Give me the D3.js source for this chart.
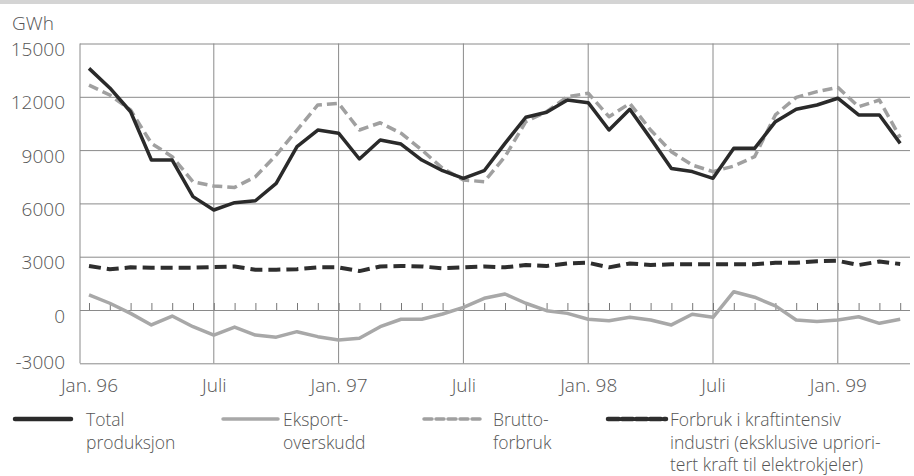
<!DOCTYPE html>
<html>
<head>
<meta charset="utf-8">
<script src="https://cdn.jsdelivr.net/npm/d3@7"></script>
<style>
  body { margin: 0; background: #fff; }
  text { font-family: "Open Sans", "Noto Sans", sans-serif; font-weight: 300; fill: #555; }
</style>
</head>
<body>
<div id="chart"></div>
<script>
// månedlige verdier, jan. 96 - apr. 99 (GWh)
var totalProduksjon = [13600,12500,11160,8440,8440,6380,5630,6040,6150,7130,
  9190,10130,9950,8500,9570,9340,8440,7840,7410,7840,
  9380,10850,11130,11820,11670,10130,11300,9660,7970,7790,
  7410,9100,9100,10600,11300,11540,11920,10980,10980,9380];
var bruttoForbruk = [12660,12100,11260,9380,8630,7220,6980,6900,7500,8720,
  10130,11540,11630,10130,10540,9950,9010,7970,7320,7220,
  8630,10600,11160,12000,12200,10880,11630,10130,8910,8160,
  7790,8100,8630,10980,11970,12290,12530,11440,11820,9700];
var forbrukKraftintensiv = [2480,2290,2400,2380,2380,2380,2420,2450,2270,2270,
  2300,2400,2400,2190,2450,2480,2450,2350,2400,2450,
  2400,2530,2480,2620,2660,2400,2620,2530,2570,2570,
  2570,2570,2570,2660,2660,2750,2770,2530,2730,2590];
var eksportOverskudd = [850,380,-190,-840,-340,-940,-1410,-960,-1410,-1530,
  -1220,-1500,-1690,-1590,-940,-520,-520,-225,150,660,
  900,380,-40,-190,-520,-600,-410,-560,-840,-240,
  -410,1030,720,230,-560,-650,-560,-380,-750,-520];

var xTickMonths = [0, 6, 12, 18, 24, 30, 36];
var xTickLabels = ["Jan. 96", "Juli", "Jan. 97", "Juli", "Jan. 98", "Juli", "Jan. 99"];
var yTicks = [-3000, 0, 3000, 6000, 9000, 12000, 15000];

var width = 914, height = 476;
var plotLeft = 80, plotRight = 910, plotTop = 43.5, plotBottom = 363.3;

var svg = d3.select("#chart").append("svg")
  .attr("width", width)
  .attr("height", height);

// grå stripe øverst (skannekant)
svg.append("rect")
  .attr("x", 0).attr("y", 0)
  .attr("width", width).attr("height", 4)
  .style("fill", "#d4d4d4");

var x = d3.scaleLinear().domain([0, 39]).range([89, 900.2]);
var y = d3.scaleLinear().domain([-3000, 15000]).range([plotBottom, plotTop]);

// horisontale gitterlinjer + y-etiketter
var yAxis = svg.append("g")
  .attr("transform", "translate(" + plotLeft + ",0)")
  .call(d3.axisLeft(y).tickValues(yTicks).tickSize(-(plotRight - plotLeft)).tickPadding(15)
    .tickFormat(function(d){ return String(d); }));
yAxis.select(".domain").remove();
yAxis.selectAll(".tick line").style("stroke", "#8a8a8a").style("stroke-width", 1);
yAxis.selectAll(".tick text")
  .attr("dy", function(d){ return d == -3000 ? "5px" : "12px"; })
  .style("font-size", "19px")
  .style("font-family", null);

// vertikale gitterlinjer
svg.append("g").selectAll("line")
  .data(xTickMonths.slice(1))
  .enter().append("line")
  .attr("x1", function(d){ return x(d); })
  .attr("x2", function(d){ return x(d); })
  .attr("y1", plotTop)
  .attr("y2", plotBottom)
  .style("stroke", "#8a8a8a")
  .style("stroke-width", 1);

// venstre akse
svg.append("line")
  .attr("x1", plotLeft).attr("x2", plotLeft)
  .attr("y1", plotTop).attr("y2", plotBottom)
  .style("stroke", "#8a8a8a")
  .style("stroke-width", 1);

// små månedsstreker på nullinjen
var mTicks = svg.append("g")
  .attr("transform", "translate(0," + y(0) + ")")
  .call(d3.axisTop(x).tickValues(d3.range(40)).tickSize(7).tickFormat(""));
mTicks.select(".domain").remove();
mTicks.selectAll(".tick line").style("stroke", "#777").style("stroke-width", 1);

// x-etiketter
var xAxis = svg.append("g")
  .attr("transform", "translate(0," + plotBottom + ")")
  .call(d3.axisBottom(x).tickValues(xTickMonths).tickSize(0).tickPadding(0)
    .tickFormat(function(d, i){ return xTickLabels[i]; }));
xAxis.select(".domain").remove();
xAxis.selectAll(".tick text")
  .attr("dy", "29px")
  .attr("y", 0)
  .style("font-size", "19px")
  .style("font-family", null);

svg.append("text")
  .attr("x", 12).attr("y", 30)
  .style("font-size", "19px")
  .text("GWh");

var line = d3.line()
  .x(function(d, i){ return x(i); })
  .y(function(d){ return y(d); });

var series = [
  {data: eksportOverskudd, color: "#a8a8a8", dash: null, w: 3.5},
  {data: bruttoForbruk, color: "#a0a0a0", dash: "10,5", w: 3.5},
  {data: forbrukKraftintensiv, color: "#2e2e2e", dash: "12,6", w: 4},
  {data: totalProduksjon, color: "#2a2a2a", dash: null, w: 3.5}
];

series.forEach(function(s){
  svg.append("path")
    .datum(s.data)
    .attr("d", line)
    .style("fill", "none")
    .style("stroke", s.color)
    .style("stroke-width", s.w)
    .style("stroke-linejoin", "round")
    .style("stroke-dasharray", s.dash);
});

// tegnforklaring
var legendItems = [
  {x1: 15, x2: 71, tx: 86, color: "#2a2a2a", dash: null, w: 4.5, lines: ["Total", "produksjon"]},
  {x1: 223, x2: 278, tx: 283, color: "#a8a8a8", dash: null, w: 3.5, lines: ["Eksport-", "overskudd"]},
  {x1: 424, x2: 480, tx: 493, color: "#a0a0a0", dash: "8,4", w: 3.5, lines: ["Brutto-", "forbruk"]},
  {x1: 608, x2: 666, tx: 670, color: "#2e2e2e", dash: "11,3", w: 4.5,
    lines: ["Forbruk i kraftintensiv", "industri (eksklusive upriori-", "tert kraft til elektrokjeler)"]}
];

var legend = svg.append("g");
legendItems.forEach(function(d){
  legend.append("line")
    .attr("x1", d.x1).attr("x2", d.x2)
    .attr("y1", 419).attr("y2", 419)
    .style("stroke", d.color)
    .style("stroke-width", d.w)
    .style("stroke-linecap", "round")
    .style("stroke-dasharray", d.dash);
  var t = legend.append("text")
    .attr("x", d.tx).attr("y", 426)
    .style("font-size", "17.5px");
  d.lines.forEach(function(l, i){
    t.append("tspan").attr("x", d.tx).attr("dy", i == 0 ? 0 : 22.5).text(l);
  });
});
</script>
</body>
</html>
